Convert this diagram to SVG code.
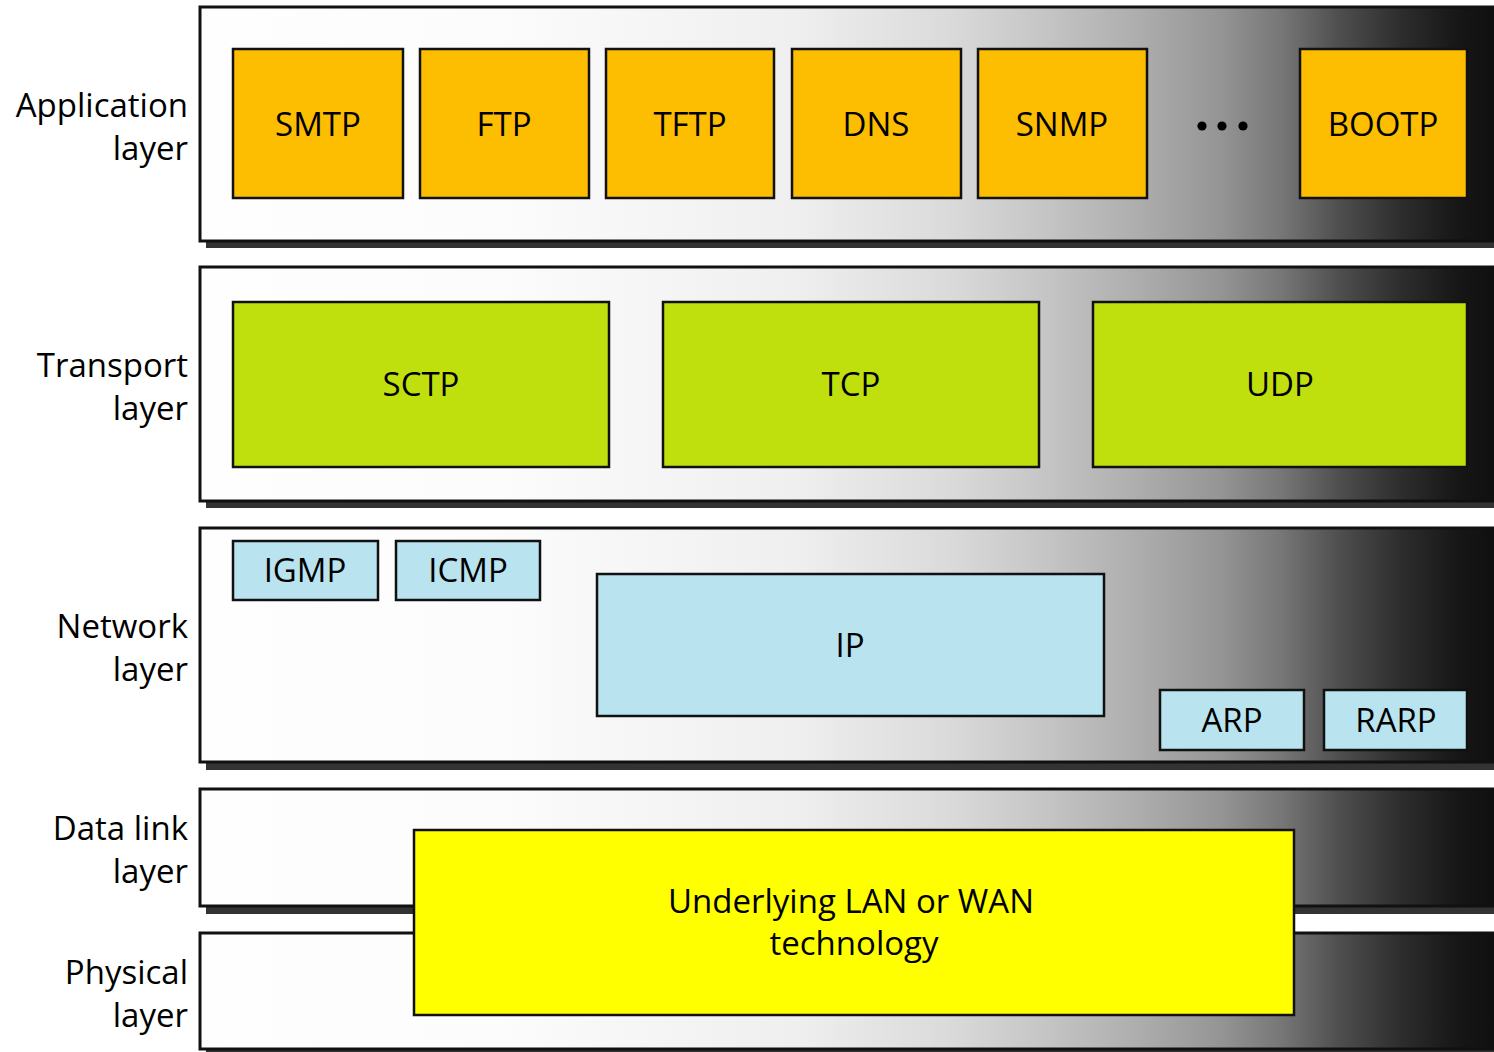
<svg xmlns="http://www.w3.org/2000/svg" width="1494" height="1052" viewBox="0 0 1494 1052">
  <defs>
    <!-- horizontal shading shared by every layer band -->
    <linearGradient id="bandShade" gradientUnits="userSpaceOnUse" x1="200" y1="0" x2="1494" y2="0">
      <stop offset="0" stop-color="#fefefe"/>
      <stop offset="0.23" stop-color="#fcfcfc"/>
      <stop offset="0.46" stop-color="#efefef"/>
      <stop offset="0.58" stop-color="#dadada"/>
      <stop offset="0.657" stop-color="#c4c4c4"/>
      <stop offset="0.734" stop-color="#aaaaaa"/>
      <stop offset="0.788" stop-color="#959595"/>
      <stop offset="0.835" stop-color="#777777"/>
      <stop offset="0.881" stop-color="#4e4e4e"/>
      <stop offset="0.927" stop-color="#2e2e2e"/>
      <stop offset="0.973" stop-color="#161616"/>
      <stop offset="1" stop-color="#101010"/>
    </linearGradient>
  </defs>
  <style>
    .shadow { fill: #333333; }
    .band { fill: url(#bandShade); stroke: #111111; stroke-width: 3; }
    .box { stroke: #111111; stroke-width: 2.5; }
    .app { fill: #fdbd00; }
    .trn { fill: #c0e00e; }
    .net { fill: #b9e3ef; }
    .lnk { fill: #ffff00; }
    text { font-family: "Open Sans", "Noto Sans", "Liberation Sans", sans-serif; fill: #000000; }
    .lbl { font-size: 33px; text-anchor: end; }
    .t { font-size: 33px; text-anchor: middle; }
  </style>

  <rect width="1494" height="1052" fill="#ffffff"/>

  <!-- layer bands with drop shadows -->
  <g id="bands">
    <rect class="shadow" x="206" y="241" width="1300" height="7"/>
    <rect class="band" x="200" y="7" width="1310" height="234"/>
    <rect class="shadow" x="206" y="501" width="1300" height="7"/>
    <rect class="band" x="200" y="267" width="1310" height="234"/>
    <rect class="shadow" x="206" y="762" width="1300" height="8"/>
    <rect class="band" x="200" y="528" width="1310" height="234"/>
    <rect class="shadow" x="206" y="906" width="1300" height="8"/>
    <rect class="band" x="200" y="789" width="1310" height="117"/>
    <rect class="shadow" x="206" y="1049" width="1300" height="8"/>
    <rect class="band" x="200" y="933" width="1310" height="116"/>
  </g>

  <!-- layer names -->
  <g id="layer-labels">
    <text class="lbl" x="188" y="117">Application</text>
    <text class="lbl" x="188" y="160">layer</text>
    <text class="lbl" x="188" y="377">Transport</text>
    <text class="lbl" x="188" y="420">layer</text>
    <text class="lbl" x="188" y="638">Network</text>
    <text class="lbl" x="188" y="681">layer</text>
    <text class="lbl" x="188" y="840">Data link</text>
    <text class="lbl" x="188" y="883">layer</text>
    <text class="lbl" x="188" y="984">Physical</text>
    <text class="lbl" x="188" y="1027">layer</text>
  </g>

  <!-- application layer protocols -->
  <g id="smtp"><rect class="box app" x="233" y="49" width="170" height="149"/><text class="t" x="318" y="136">SMTP</text></g>
  <g id="ftp"><rect class="box app" x="420" y="49" width="169" height="149"/><text class="t" x="504" y="136">FTP</text></g>
  <g id="tftp"><rect class="box app" x="606" y="49" width="168" height="149"/><text class="t" x="690" y="136">TFTP</text></g>
  <g id="dns"><rect class="box app" x="792" y="49" width="169" height="149"/><text class="t" x="876" y="136">DNS</text></g>
  <g id="snmp"><rect class="box app" x="978" y="49" width="169" height="149"/><text class="t" x="1062" y="136">SNMP</text></g>
  <g id="ellipsis">
    <circle cx="1202" cy="126" r="4.6"/>
    <circle cx="1222" cy="126" r="4.6"/>
    <circle cx="1243" cy="126" r="4.6"/>
  </g>
  <g id="bootp"><rect class="box app" x="1300" y="49" width="167" height="149"/><text class="t" x="1383" y="136">BOOTP</text></g>

  <!-- transport layer protocols -->
  <g id="sctp"><rect class="box trn" x="233" y="302" width="376" height="165"/><text class="t" x="421" y="396">SCTP</text></g>
  <g id="tcp"><rect class="box trn" x="663" y="302" width="376" height="165"/><text class="t" x="851" y="396">TCP</text></g>
  <g id="udp"><rect class="box trn" x="1093" y="302" width="374" height="165"/><text class="t" x="1280" y="396">UDP</text></g>

  <!-- network layer protocols -->
  <g id="igmp"><rect class="box net" x="233" y="541" width="145" height="59"/><text class="t" x="305" y="582">IGMP</text></g>
  <g id="icmp"><rect class="box net" x="396" y="541" width="144" height="59"/><text class="t" x="468" y="582">ICMP</text></g>
  <g id="ip"><rect class="box net" x="597" y="574" width="507" height="142"/><text class="t" x="850" y="657">IP</text></g>
  <g id="arp"><rect class="box net" x="1160" y="690" width="144" height="60"/><text class="t" x="1232" y="732">ARP</text></g>
  <g id="rarp"><rect class="box net" x="1324" y="690" width="143" height="60"/><text class="t" x="1396" y="732">RARP</text></g>

  <!-- data link and physical layers -->
  <g id="lan-wan">
    <rect class="box lnk" x="414" y="830" width="880" height="185"/>
    <text class="t" x="851" y="913">Underlying LAN or WAN</text>
    <text class="t" x="854" y="955">technology</text>
  </g>
</svg>
